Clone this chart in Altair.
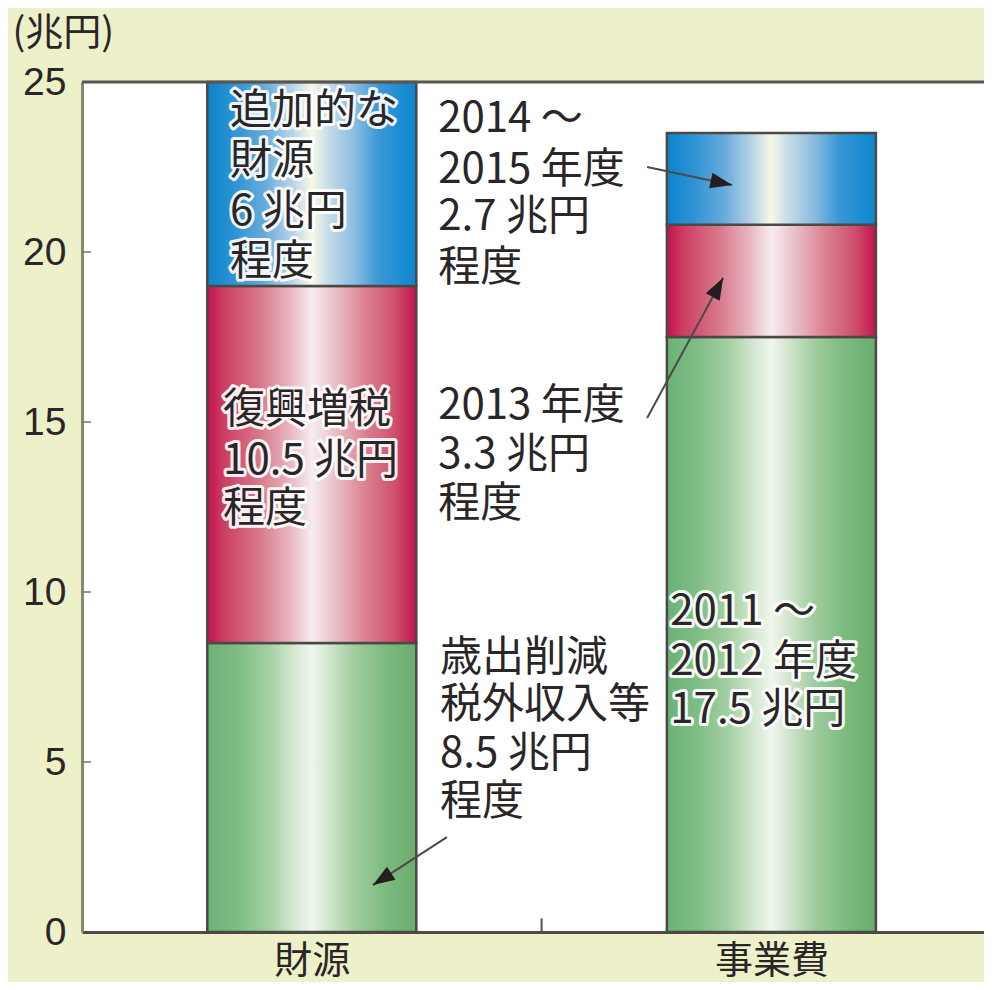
import json
import math
import altair as alt
import pandas as pd

# ---------------- data ----------------
categories = ["財源", "事業費"]
green_values = [8.5, 17.5]   # 歳出削減・税外収入等 / 2011～2012年度
red_values = [10.5, 3.3]     # 復興増税 / 2013年度
blue_values = [6.0, 2.7]     # 追加的な財源 / 2014～2015年度
y_ticks = [0, 5, 10, 15, 20, 25]
inner_ticks = [5, 10, 15, 20]
category_divider = [1.0]

label_lines = ["追加的な", "財源", "6 兆円", "程度",
               "復興増税", "10.5 兆円", "程度",
               "歳出削減", "税外収入等", "8.5 兆円", "程度",
               "2014 ～", "2015 年度", "2.7 兆円", "程度",
               "2013 年度", "3.3 兆円", "程度",
               "2011 ～", "2012 年度", "17.5 兆円"]
label_x = [0.322, 0.322, 0.322, 0.322,
           0.307, 0.307, 0.307,
           0.779, 0.779, 0.779, 0.779,
           0.775, 0.775, 0.775, 0.775,
           0.775, 0.775, 0.775,
           1.280, 1.280, 1.280]
label_y = [24.21, 22.74, 21.24, 19.76,
           15.41, 13.91, 12.50,
           8.12, 6.74, 5.29, 3.88,
           23.97, 22.47, 21.09, 19.59,
           15.53, 14.09, 12.65,
           9.47, 8.00, 6.59]

arrow_x0 = [1.2296, 1.2296, 0.794]
arrow_y0 = [22.50, 15.12, 2.79]
arrow_x1 = [1.4146, 1.395, 0.633]
arrow_y1 = [21.97, 19.24, 1.38]

# ---------------- layout / style ----------------
W, H = 902, 850
X_DOMAIN = [0, 1.9626]
Y_DOMAIN = [0, 25]
HALF_BAR = 0.2274
FONT_JP = "Noto Sans CJK JP"
TEXT_COLOR = "#2a2627"
BG = "#EEF0C9"

px_x = W / (X_DOMAIN[1] - X_DOMAIN[0])
px_y = H / (Y_DOMAIN[1] - Y_DOMAIN[0])

# bar segments
rows = []
for i, cat in enumerate(categories):
    base = 0.0
    for seg, vals in (("green", green_values), ("red", red_values), ("blue", blue_values)):
        v = vals[i]
        rows.append(dict(cat=cat, seg=seg, xs=i + 0.5 - HALF_BAR, xe=i + 0.5 + HALF_BAR,
                         y0=base, y1=base + v))
        base += v
bars = pd.DataFrame(rows)

labels = pd.DataFrame(dict(text=label_lines, x=label_x, y=label_y))

arrows = pd.DataFrame(dict(x0=arrow_x0, y0=arrow_y0, x1=arrow_x1, y1=arrow_y1))
angles = []
for a, b, c, d in zip(arrow_x0, arrow_y0, arrow_x1, arrow_y1):
    dx = (c - a) * px_x
    dy = -(d - b) * px_y
    angles.append(math.degrees(math.atan2(dx, -dy)) % 360)
arrows["angle"] = angles

label_expr = json.dumps(categories, ensure_ascii=False) + "[floor(datum.value)]"

X_SCALE = alt.Scale(domain=X_DOMAIN, nice=False, zero=False)
Y_SCALE = alt.Scale(domain=Y_DOMAIN, nice=False)

X_AXIS = alt.Axis(values=[0.5, 1.5], labelExpr=label_expr, title=None, grid=False,
                  ticks=False, tickSize=0, labelFont=FONT_JP, labelFontSize=38,
                  labelColor=TEXT_COLOR, labelPadding=10, labelBaseline="top",
                  labelFlush=False, labelOverlap=False,
                  domainColor="#4f4a45", domainWidth=3)
Y_AXIS = alt.Axis(values=y_ticks, title="(兆円)", grid=False, ticks=False, tickSize=0,
                  labelFont="Liberation Sans", labelFontSize=39, labelColor=TEXT_COLOR,
                  labelPadding=16, labelAlign="right", labelBaseline="middle",
                  labelFlush=False, labelOverlap=False,
                  domainColor="#8a8872", domainWidth=3,
                  titleAngle=0, titleAlign="left", titleBaseline="middle",
                  titleX=-70, titleY=-49, titleFont=FONT_JP, titleFontSize=38,
                  titleFontWeight="normal", titleColor=TEXT_COLOR)


def X(field, **kw):
    return alt.X(field, type="quantitative", scale=X_SCALE, axis=X_AXIS, **kw)


def Y(field, **kw):
    return alt.Y(field, type="quantitative", scale=Y_SCALE, axis=Y_AXIS, **kw)


def grad(stops):
    return alt.LinearGradient(
        gradient="linear",
        stops=[alt.GradientStop(offset=o, color=c) for o, c in stops],
        x1=0, x2=1, y1=0, y2=0)


gradients = {
    "green": grad([(0, "#6BB277"), (0.15, "#80BD86"), (0.3, "#A6D0A4"), (0.42, "#D6E9D3"),
                   (0.5, "#EFF6EC"), (0.58, "#D2E6CE"), (0.7, "#A3CDA0"), (0.85, "#7DBA80"),
                   (1, "#69AD6D")]),
    "red": grad([(0, "#C4124E"), (0.08, "#CC3F62"), (0.25, "#D8788B"), (0.4, "#E8B8C3"),
                 (0.5, "#F7EDF1"), (0.6, "#EBC4CD"), (0.75, "#DB8494"), (0.9, "#CE4F6C"),
                 (1, "#C0134C")]),
    "blue": grad([(0, "#0A84CD"), (0.12, "#2C92D3"), (0.27, "#64AADB"), (0.4, "#B3D2E6"),
                  (0.5, "#F7F8E5"), (0.58, "#C6DCE8"), (0.7, "#8DBDE0"), (0.82, "#3A98D6"),
                  (1, "#0A86CF")]),
}

layers = []
for seg in ("green", "red", "blue"):
    layers.append(
        alt.Chart(bars).transform_filter(alt.datum.seg == seg)
        .mark_bar(fill=gradients[seg], stroke="#4c4846", strokeWidth=2.5)
        .encode(x=X("xs"), x2="xe", y=Y("y0"), y2="y1")
    )

top_border = alt.Chart(pd.DataFrame({"y": [Y_DOMAIN[1]]})).mark_rule(
    color="#5a5550", strokeWidth=3).encode(y=Y("y"))

inner = alt.Chart(pd.DataFrame({"y": inner_ticks})).mark_rule(
    color="#77756a", strokeWidth=1.5).encode(y=Y("y"), x=alt.value(0), x2=alt.value(9))

divider = alt.Chart(pd.DataFrame({"x": category_divider, "y0": [0.0], "y1": [0.4]})).mark_rule(
    color="#555150", strokeWidth=2).encode(x=X("x"), y=Y("y0"), y2="y1")

arrow_lines = alt.Chart(arrows).mark_rule(color="#4d4a4a", strokeWidth=2).encode(
    x=X("x0"), y=Y("y0"), x2="x1", y2="y1")

arrow_heads = alt.Chart(arrows).mark_point(
    shape="M0,0 L0.36,1 L-0.36,1 Z", size=1900, filled=True, fill="#231f20",
    opacity=1, strokeWidth=0).encode(
    x=X("x1"), y=Y("y1"), angle=alt.Angle("angle:Q", scale=None))

halo = alt.Chart(labels).mark_text(
    font=FONT_JP, fontSize=42, align="left", baseline="middle", dy=2,
    fill="white", stroke="white", strokeWidth=6, strokeJoin="round", opacity=0.9).encode(
    x=X("x"), y=Y("y"), text="text:N")

text = alt.Chart(labels).mark_text(
    font=FONT_JP, fontSize=42, align="left", baseline="middle", dy=2,
    color=TEXT_COLOR).encode(x=X("x"), y=Y("y"), text="text:N")

chart = alt.layer(
    *layers, top_border, inner, divider, arrow_lines, arrow_heads, halo, text
).properties(
    width=W, height=H,
    padding={"left": 74, "top": 74, "right": 0, "bottom": 50},
    autosize=alt.AutoSizeParams(type="none"),
    background=BG,
).configure_view(
    fill="white", stroke=None, strokeWidth=0
)

chart.save("out.html", embed_options={"renderer": "svg", "actions": False})
